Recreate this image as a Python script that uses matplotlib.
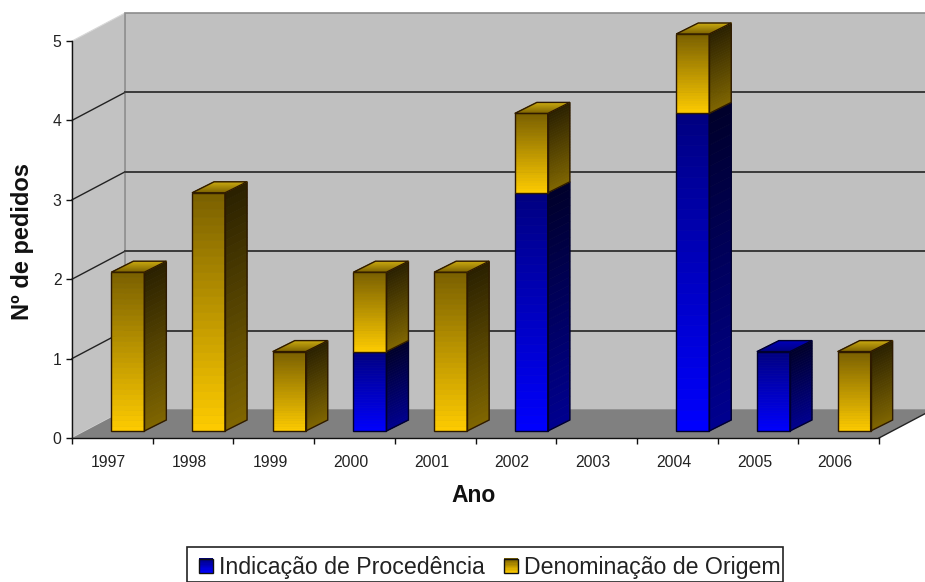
import matplotlib
matplotlib.use("Agg")
import matplotlib.pyplot as plt
from matplotlib.collections import PolyCollection
from matplotlib.colors import to_rgb
from matplotlib.legend_handler import HandlerBase
from matplotlib.patches import Patch, Polygon, Rectangle

plt.rcParams['font.family'] = ['Liberation Sans', 'DejaVu Sans']

anos = ['1997', '1998', '1999', '2000', '2001', '2002', '2003', '2004', '2005', '2006']
indicacao = [0, 0, 0, 1, 0, 3, 0, 4, 1, 0]
denominacao = [2, 3, 1, 1, 2, 1, 0, 1, 0, 1]

# pixels of the front plane of the 3d box
W, H = 925, 582
LEFT, RIGHT, BOTTOM, TOP = 72, 879, 438, 41
UX = (RIGHT - LEFT) / 10
UY = (BOTTOM - TOP) / 5

# depth of the box, bar depth, bar inset - in data units
DX, DY = 53 / UX, 28 / UY
BDX, BDY = 22 / UX, 11 / UY
SHIFT, LIFT = 15.5 / UX, 7 / UY
BAR_W = 33 / UX

# colours: front (bottom, top), side (bottom, top), top face (front, back), outline
AMARELO = ('#FFCC00', '#7A6000', '#806600', '#2A2000', '#7A6000', '#C8A810', '#2E1A00')
AZUL = ('#0000FF', '#000080', '#000090', '#00002A', '#000080', '#0000B8', '#00002E')

fig = plt.figure(figsize=(W / 100, H / 100), dpi=100)
ax = fig.add_axes([LEFT / W, 1 - BOTTOM / H, (RIGHT - LEFT) / W, (BOTTOM - TOP) / H])
ax.set_xlim(0, 10)
ax.set_ylim(0, 5)
ax.patch.set_visible(False)


def mix(c1, c2, t):
    a, b = to_rgb(c1), to_rgb(c2)
    return tuple(a[k] + (b[k] - a[k]) * t for k in range(3))


# a face going from edge p0-p1 to edge p3-p2, colour goes c0 -> c1
def face(p0, p1, p2, p3, c0, c1, edge, z, n=30):
    quads = []
    cols = []
    for k in range(n):
        t0, t1 = k / n, (k + 1) / n
        quads.append([
            (p0[0] + (p3[0] - p0[0]) * t0, p0[1] + (p3[1] - p0[1]) * t0),
            (p1[0] + (p2[0] - p1[0]) * t0, p1[1] + (p2[1] - p1[1]) * t0),
            (p1[0] + (p2[0] - p1[0]) * t1, p1[1] + (p2[1] - p1[1]) * t1),
            (p0[0] + (p3[0] - p0[0]) * t1, p0[1] + (p3[1] - p0[1]) * t1),
        ])
        cols.append(mix(c0, c1, (t0 + t1) / 2))
    pc = PolyCollection(quads, facecolors=cols, edgecolors=cols, linewidths=0.5, zorder=z, clip_on=False)
    ax.add_collection(pc, autolim=False)
    ax.add_patch(Polygon([p0, p1, p2, p3], closed=True, fill=False, edgecolor=edge, lw=1.0, zorder=z + 0.1, clip_on=False))


def bar3d(x0, y0, y1, cor, z):
    x1 = x0 + BAR_W
    front, front_top, side, side_top, top0, top1, edge = cor
    face((x0, y0), (x1, y0), (x1, y1), (x0, y1), front, front_top, edge, z)
    face((x1, y0), (x1 + BDX, y0 + BDY), (x1 + BDX, y1 + BDY), (x1, y1), side, side_top, edge, z)
    return x1


def top3d(x0, y1, cor, z):
    x1 = x0 + BAR_W
    face((x0, y1), (x1, y1), (x1 + BDX, y1 + BDY), (x0 + BDX, y1 + BDY), cor[4], cor[5], cor[6], z)


# walls and floor
ax.add_patch(Polygon([(0, 0), (DX, DY), (DX, 5 + DY), (0, 5)], closed=True, fc='#C2C2C2', ec='#D8D8D8', lw=0.8, zorder=1, clip_on=False))
ax.add_patch(Polygon([(DX, DY), (10 + DX, DY), (10 + DX, 5 + DY), (DX, 5 + DY)], closed=True, fc='#C0C0C0', ec='#8C8C8C', lw=1.2, zorder=1, clip_on=False))
ax.add_patch(Polygon([(0, 0), (10, 0), (10 + DX, DY), (DX, DY)], closed=True, fc='#808080', ec='none', zorder=2, clip_on=False))
ax.plot([10, 10 + DX], [0, DY], color='#222222', lw=1.0, zorder=3, clip_on=False)

for v in range(1, 5):
    ax.plot([0, DX], [v, v + DY], color='#222222', lw=1.0, zorder=2, clip_on=False)
    ax.plot([DX, 10 + DX], [v + DY, v + DY], color='#3A3A3A', lw=1.4, zorder=2, clip_on=False)

# bars
for i in range(10):
    x0 = i + 0.5 - BAR_W / 2 + SHIFT
    base = LIFT
    z = 5 + i
    last = None
    if indicacao[i] > 0:
        bar3d(x0, base, base + indicacao[i], AZUL, z)
        base += indicacao[i]
        last = AZUL
    if denominacao[i] > 0:
        bar3d(x0, base, base + denominacao[i], AMARELO, z + 0.3)
        base += denominacao[i]
        last = AMARELO
    if last is not None:
        top3d(x0, base, last, z + 0.5)

# axes
for s in ['top', 'right']:
    ax.spines[s].set_visible(False)
for s in ['left', 'bottom']:
    ax.spines[s].set_color('#111111')
    ax.spines[s].set_linewidth(1.0)
    ax.spines[s].set_zorder(20)

ax.set_yticks(range(6))
ax.set_xticks(range(11))
ax.set_xticklabels([])
ax.set_xticks([i + 0.455 for i in range(10)], anos, minor=True)
ax.tick_params(axis='y', length=4.5, width=1, color='#111111', labelsize=11.3, pad=3, labelcolor='#222222')
ax.tick_params(axis='x', which='major', length=4.5, width=1, color='#111111')
ax.tick_params(axis='x', which='minor', length=0, labelsize=11.3, pad=12, labelcolor='#222222')

fig.text(474 / W, 1 - 495 / H, 'Ano', fontsize=16.5, fontweight='bold', ha='center', va='center', color='#111111')
fig.text(23 / W, 1 - 241 / H, 'Nº de pedidos', fontsize=17, fontweight='bold', rotation=90, ha='center', va='center', color='#111111')


# legend swatch with the same gradient as the bars
class Swatch(HandlerBase):
    def __init__(self, c_bottom, c_top):
        super().__init__()
        self.c_bottom = c_bottom
        self.c_top = c_top

    def create_artists(self, legend, orig_handle, xdescent, ydescent, width, height, fontsize, trans):
        out = []
        n = 12
        for k in range(n):
            out.append(Rectangle((-xdescent, -ydescent + height * k / n), width, height / n + 0.2,
                                 fc=mix(self.c_bottom, self.c_top, k / (n - 1)), ec='none', transform=trans))
        out.append(Rectangle((-xdescent, -ydescent), width, height, fill=False, ec='#111111', lw=1.0, transform=trans))
        return out


# the box is tight on the right in the original, so it is drawn apart from the legend
# zorder below the axes, the legend belongs to the axes and has to stay on top
fig.add_artist(Rectangle((187 / W, 1 - 582 / H), (783 - 187) / W, 35 / H, transform=fig.transFigure,
                         fc='white', ec='#222222', lw=1.2, zorder=-1))

h1 = Patch(label='Indicação de Procedência')
h2 = Patch(label='Denominação de Origem')
ax.legend(handles=[h1, h2], ncol=2, loc='upper left', bbox_to_anchor=(199 / W, 1 - 556 / H),
          bbox_transform=fig.transFigure, borderaxespad=0, fontsize=16.65, frameon=False,
          handlelength=0.6, handleheight=0.6, handletextpad=0.25,
          columnspacing=0.85, borderpad=0, labelcolor='#222222',
          handler_map={h1: Swatch('#0000FF', '#000080'), h2: Swatch('#FFCC00', '#7A6000')}).set_zorder(30)

fig.savefig('out.png', dpi=100)
